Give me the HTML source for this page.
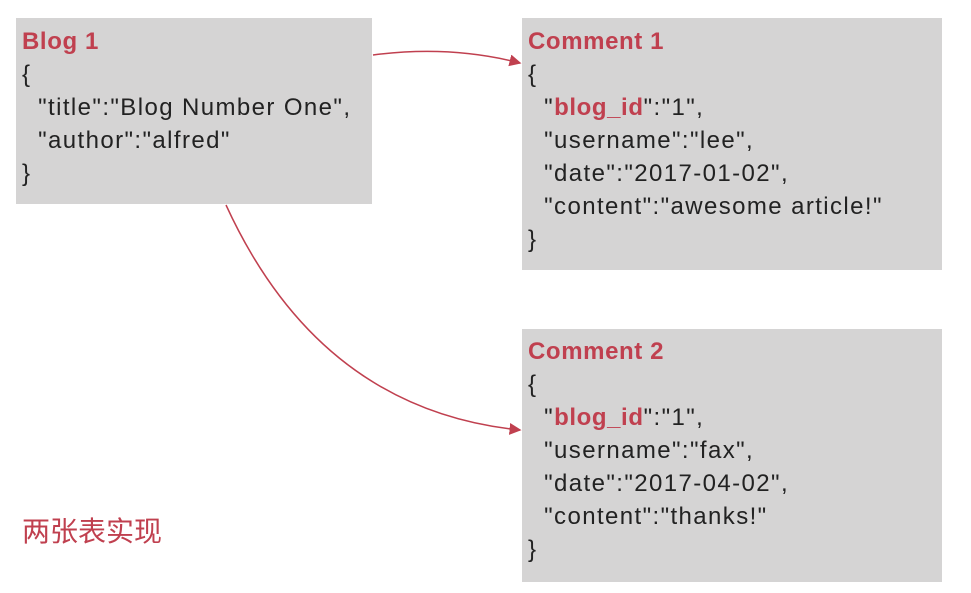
<!DOCTYPE html>
<html><head><meta charset="utf-8"><style>
body{margin:0;width:971px;height:593px;background:#fff;position:relative;overflow:hidden;font-family:"Liberation Sans","Noto Sans CJK SC",sans-serif;}
.box{position:absolute;background:#d5d4d4;}
.t{position:absolute;font-size:24px;letter-spacing:1.4px;color:#222;white-space:pre;line-height:33px;}
.h{color:#c0404f;font-weight:bold;letter-spacing:0.6px;}
</style></head><body>
<div class="box" style="left:16px;top:18px;width:356px;height:186px"></div>
<div class="box" style="left:522px;top:18px;width:420px;height:252px"></div>
<div class="box" style="left:522px;top:329px;width:420px;height:253px"></div>
<div class="t" style="left:22px;top:25px"><span class="h">Blog 1</span>
{
  "title":"Blog Number One",
  "author":"alfred"
}</div>
<div class="t" style="left:528px;top:25px"><span class="h">Comment 1</span>
{
  "<span class="h">blog_id</span>":"1",
  "username":"lee",
  "date":"2017-01-02",
  "content":"awesome article!"
}</div>
<div class="t" style="left:528px;top:335px"><span class="h">Comment 2</span>
{
  "<span class="h">blog_id</span>":"1",
  "username":"fax",
  "date":"2017-04-02",
  "content":"thanks!"
}</div>
<div style="position:absolute;left:22px;top:510px;font-size:28px;color:#c0404f;font-family:'Noto Sans CJK SC',sans-serif">两张表实现</div>
<svg width="971" height="593" style="position:absolute;left:0;top:0">
<defs><marker id="a" markerWidth="8" markerHeight="8" refX="7" refY="4" orient="auto"><path d="M0,0 L8,4 L0,8z" fill="#c0404f"/></marker></defs>
<path d="M373,55 Q450,45 520,63" stroke="#c0404f" stroke-width="1.5" fill="none" marker-end="url(#a)"/>
<path d="M226,205 Q320,410 520,430" stroke="#c0404f" stroke-width="1.5" fill="none" marker-end="url(#a)"/>
</svg>
</body></html>
